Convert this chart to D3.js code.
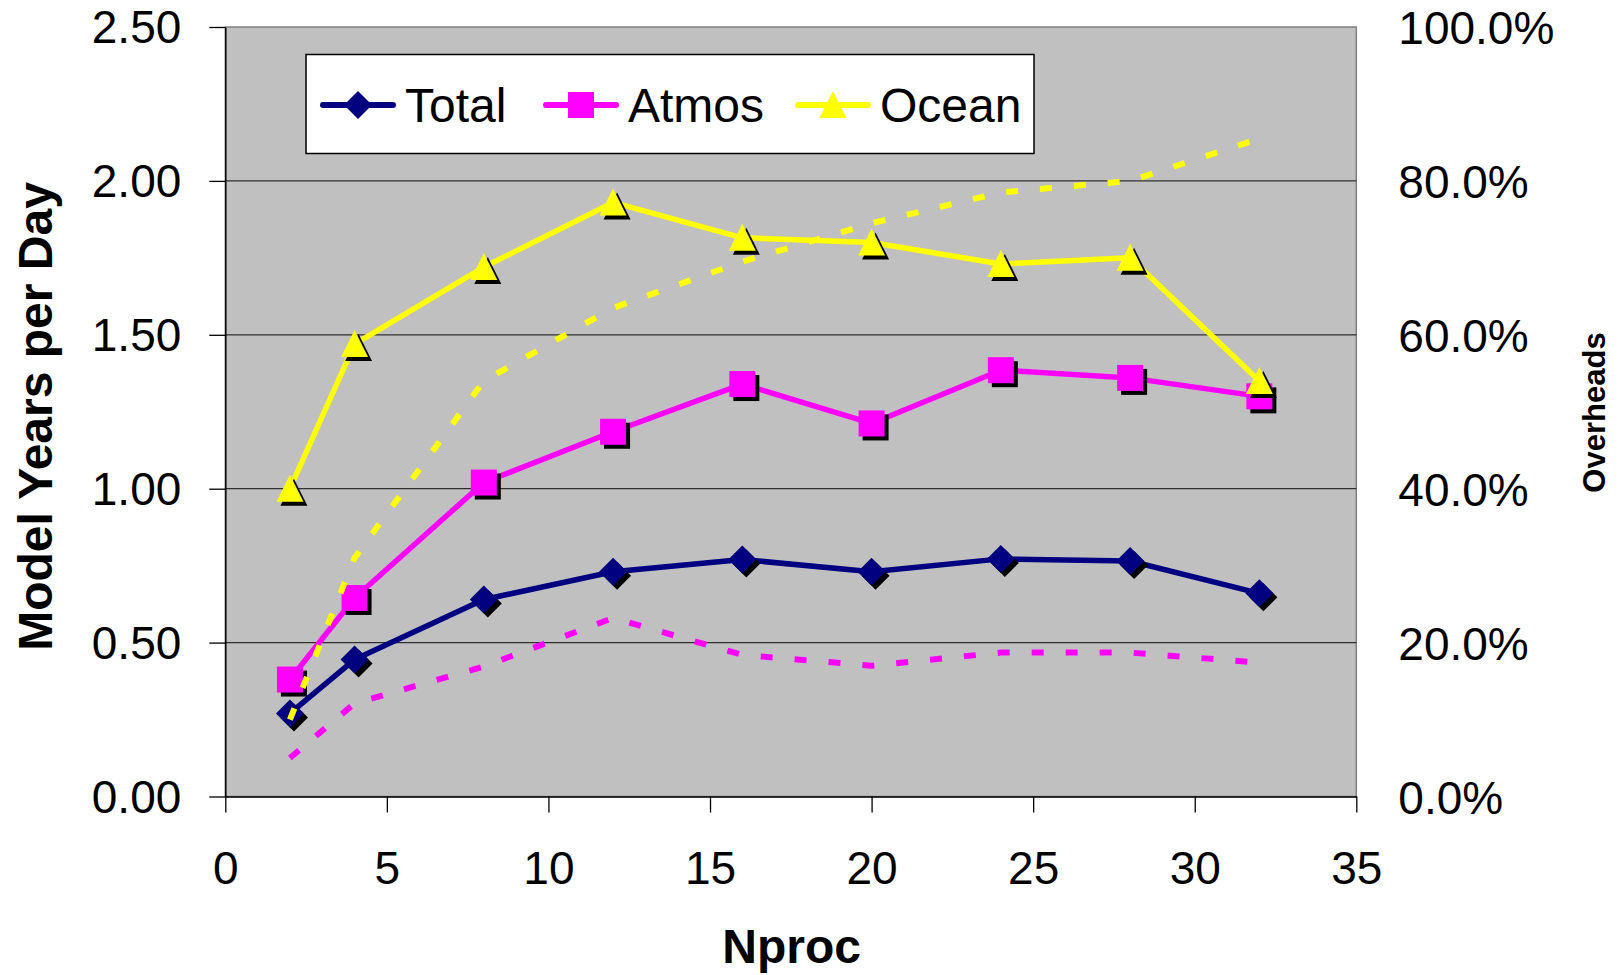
<!DOCTYPE html>
<html>
<head>
<meta charset="utf-8">
<script src="https://cdn.jsdelivr.net/npm/d3@7"></script>
<style>
  html, body { margin: 0; padding: 0; background: #fff; }
  svg { display: block; font-family: "Liberation Sans", Arial, sans-serif; }
</style>
</head>
<body>
<svg id="chart" width="1621" height="975"></svg>
<script>
// ---- data ----
const nproc = [2, 4, 8, 12, 16, 20, 24, 28, 32];
const total = [0.27, 0.445, 0.64, 0.73, 0.77, 0.73, 0.772, 0.765, 0.66];
const atmos = [0.38, 0.645, 1.02, 1.185, 1.34, 1.212, 1.385, 1.36, 1.30];
const ocean = [1.00, 1.47, 1.72, 1.93, 1.815, 1.80, 1.73, 1.75, 1.35];
const oceanOverhead = [0.10, 0.31, 0.54, 0.635, 0.695, 0.745, 0.785, 0.80, 0.855];
const atmosOverhead = [0.05, 0.121, 0.169, 0.232, 0.184, 0.170, 0.187, 0.187, 0.174];
const xTicks = [0, 5, 10, 15, 20, 25, 30, 35];
const yTicks = [0, 0.5, 1.0, 1.5, 2.0, 2.5];
const y2Ticks = [0, 0.2, 0.4, 0.6, 0.8, 1.0];
const seriesNames = ["Total", "Atmos", "Ocean"];
const seriesColors = ["#000080", "#FF00FF", "#FFFF00"];
const seriesShapes = ["diamond", "square", "triangle"];

// ---- layout ----
const L = 225.3, R = 1356.3, T = 27, B = 796.5;
const svg = d3.select("#chart");
const x = d3.scaleLinear().domain([0, 35]).range([L, R]);
const y = d3.scaleLinear().domain([0, 2.5]).range([B, T]);
const y2 = d3.scaleLinear().domain([0, 1]).range([B, T]);
const FONT = 46;

// plot area
svg.append("rect").attr("x", L).attr("y", T).attr("width", R - L).attr("height", B - T)
  .attr("fill", "#C0C0C0").attr("stroke", "#808080").attr("stroke-width", 1.5);

// gridlines
svg.append("g").selectAll("line").data(yTicks.filter(d => d > 0 && d < 2.5)).join("line")
  .attr("x1", L).attr("x2", R).attr("y1", d => y(d)).attr("y2", d => y(d))
  .attr("stroke", "#303030").attr("stroke-width", 1.2);

// axes
const gl = svg.append("g").attr("transform", `translate(${L},0)`)
  .call(d3.axisLeft(y).tickValues(yTicks).tickFormat(d3.format(".2f")).tickSizeInner(16).tickSizeOuter(0).tickPadding(28));
const gb = svg.append("g").attr("transform", `translate(0,${B})`)
  .call(d3.axisBottom(x).tickValues(xTicks).tickFormat(d3.format("d")).tickSizeInner(16).tickSizeOuter(0).tickPadding(39));
const gr = svg.append("g").attr("transform", `translate(${R},0)`)
  .call(d3.axisRight(y2).tickValues(y2Ticks).tickFormat(d3.format(".1%")).tickSizeInner(0).tickSizeOuter(0).tickPadding(42));
[gl, gb, gr].forEach(g => {
  g.selectAll("text").attr("font-size", FONT).attr("fill", "#000")
   .attr("font-family", "'Liberation Sans', Arial, sans-serif");
  g.selectAll("line").attr("stroke", "#000").attr("stroke-width", 1.3);
  g.select(".domain").attr("stroke", "#000").attr("stroke-width", 1.5);
});
gl.selectAll("text").attr("dy", "0.34em");
gr.selectAll("text").attr("dy", "0.36em");
gr.select(".domain").remove();

// titles
svg.append("text").attr("transform", "translate(51.7,416.5) rotate(-90)")
  .attr("text-anchor", "middle").attr("font-weight", "bold").attr("font-size", 48).text("Model Years per Day");
svg.append("text").attr("x", 791.7).attr("y", 963.3)
  .attr("text-anchor", "middle").attr("font-weight", "bold").attr("font-size", 48).text("Nproc");
svg.append("text").attr("transform", "translate(1605,412.5) rotate(-90)")
  .attr("text-anchor", "middle").attr("font-weight", "bold").attr("font-size", 31).text("Overheads");

// marker shapes
function shapePath(type) {
  if (type === "diamond") return "M0,-14L14,0L0,14L-14,0Z";
  if (type === "square") return "M-13,-13H13V13H-13Z";
  return "M0,-14L13.5,13L-13.5,13Z";
}

// solid series
const solidData = [total, atmos, ocean];
const line = d3.line().x((d, i) => x(nproc[i])).y(d => y(d));
solidData.forEach((vals, si) => {
  const g = svg.append("g");
  g.append("path").datum(vals).attr("d", line).attr("fill", "none")
    .attr("stroke", seriesColors[si]).attr("stroke-width", 5.5).attr("stroke-linejoin", "round");
  g.selectAll("path.shadow").data(vals).join("path").attr("class", "shadow")
    .attr("transform", (d, i) => `translate(${x(nproc[i]) + 4},${y(d) + 4})`)
    .attr("d", shapePath(seriesShapes[si])).attr("fill", "#000");
  g.selectAll("path.mk").data(vals).join("path").attr("class", "mk")
    .attr("transform", (d, i) => `translate(${x(nproc[i])},${y(d)})`)
    .attr("d", shapePath(seriesShapes[si])).attr("fill", seriesColors[si]);
});

// overhead dotted series (secondary axis)
const line2 = d3.line().x((d, i) => x(nproc[i])).y(d => y2(d));
[[atmosOverhead, "#FF00FF"], [oceanOverhead, "#FFFF00"]].forEach(([vals, col]) => {
  svg.append("path").datum(vals).attr("d", line2).attr("fill", "none")
    .attr("stroke", col).attr("stroke-width", 6).attr("stroke-dasharray", "12,22");
});

// legend
const lg = svg.append("g");
lg.append("rect").attr("x", 306).attr("y", 54.5).attr("width", 728).attr("height", 99)
  .attr("fill", "#fff").attr("stroke", "#000").attr("stroke-width", 1.5);
const legendLineX = [323, 546, 798];
legendLineX.forEach((lx, i) => {
  lg.append("line").attr("x1", lx).attr("x2", lx + 70).attr("y1", 105).attr("y2", 105)
    .attr("stroke", seriesColors[i]).attr("stroke-width", 6).attr("stroke-linecap", "round");
  lg.append("path").attr("transform", `translate(${lx + 35},105)`)
    .attr("d", shapePath(seriesShapes[i])).attr("fill", seriesColors[i]);
  lg.append("text").attr("x", lx + 82).attr("y", 121.5).attr("font-size", 48).attr("fill", "#000")
    .text(seriesNames[i]);
});
</script>
</body>
</html>
